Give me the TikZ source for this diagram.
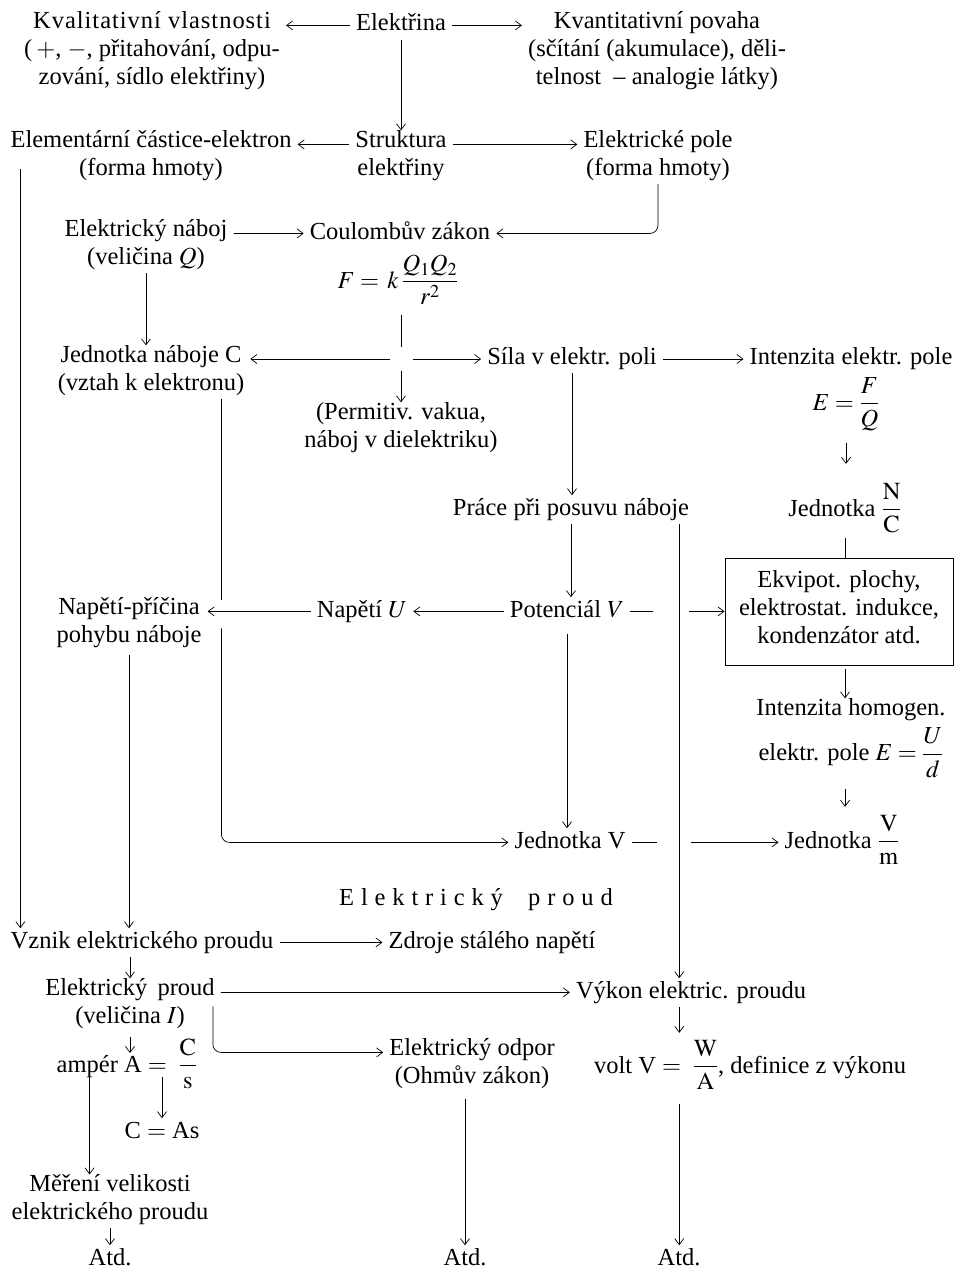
\documentclass[tikz,border=0pt]{standalone}
\usepackage{amsmath}
\usepackage{mathptmx}
\usepackage{fontspec}
\setmainfont{Liberation Serif}
\usetikzlibrary{arrows.meta,calc}
\begin{document}
\begin{tikzpicture}[x=1pt,y=-1pt,
  every node/.style={font=\fontsize{24.5}{28}\selectfont, inner xsep=6pt, inner ysep=0pt, execute at begin node=\strut},
  one/.style={anchor=base},
  multi/.style={anchor=north, align=center},
  link/.style={line width=0.7pt},
  arr/.style={link, -{Straight Barb[length=6pt,width=9pt]}},
  boxed/.style={draw, line width=1pt, minimum width=228pt, minimum height=107pt, align=center, anchor=center}
]
\useasboundingbox (0,0) rectangle (955,1268);
% nodes
\node[multi] (kval) at (152,11.4) {{\addfontfeatures{LetterSpace=4}Kvalitativní vlastnosti}\\\strut(\,$+$, $-$, přitahování, odpu-\\\strut zování, sídlo elektřiny)};
\node[one] (elek) at (401,31) {Elektřina};
\node[multi] (kvant) at (657,11.4) {Kvantitativní povaha\\\strut(sčítání (akumulace), děli-\\\strut telnost \ – analogie látky)};
\node[multi] (strukt) at (401,130.4) {Struktura\\\strut elektřiny};
\node[multi] (elem) at (151,130.4) {Elementární částice-elektron\\\strut(forma hmoty)};
\node[multi] (epole) at (658,130.4) {Elektrické pole\\\strut(forma hmoty)};
\node[multi] (naboj) at (146,219.4) {Elektrický náboj\\\strut(veličina $Q$)};
\node[one] (coul) at (400,239) {Coulombův zákon};
\node[one] (formula) at (398,288) {$F =\, k\,\dfrac{Q_1Q_2}{r^2}$};
\coordinate (J) at (401,359);
\node[multi] (jedC) at (151,345.4) {Jednotka náboje C\\\strut(vztah k elektronu)};
\node[multi] (perm) at (401,402.4) {(Permitiv. vakua,\\\strut náboj v dielektriku)};
\node[one] (sila) at (572,364.6) {Síla v elektr. poli};
\node[one] (intE) at (851,364.6) {Intenzita elektr. pole};
\node[one] (EFQ) at (846,410) {$E = \dfrac{F}{Q}$};
\node[one] (jedNC) at (845,516) {Jednotka $\dfrac{\mathrm{N}}{\mathrm{C}}$};
\node[one] (prace) at (571,515) {Práce při posuvu náboje};
\node[boxed] (box) at (839,611.5) {Ekvipot. plochy,\\\strut elektrostat. indukce,\\\strut kondenzátor atd.};
\node[one] (pot) at (567,617) {Potenciál $V$};
\node[one] (napU) at (362,617) {Napětí $U$};
\node[multi] (napPr) at (129,597.4) {Napětí-příčina\\\strut pohybu náboje};
\node[multi] (homog) at (851,698.4) {Intenzita homogen.\\[6pt]\strut elektr. pole $E = \dfrac{U}{d}$};
\node[one] (jedV) at (570,848) {Jednotka V};
\node[one] (jedVm) at (842,848) {Jednotka $\dfrac{\mathrm{V}}{\mathrm{m}}$};
\node[one] (title) at (476,905) {\addfontfeatures{LetterSpace=28}Elektrický\hspace{0.5em} proud};
\node[one] (vznik) at (142,948) {Vznik elektrického proudu};
\node[one] (zdroje) at (492,948) {Zdroje stálého napětí};
\node[multi] (eproud) at (130,978.4) {Elektrický\, proud\\\strut(veličina $I$)};
\node[one] (vykon) at (691,998) {Výkon elektric. proudu};
\node[one] (ampere) at (127,1072) {ampér A\ $=\ \dfrac{\mathrm{C}}{\mathrm{s}}$};
\node[one] (CAs) at (162,1138) {C $=$ As};
\node[multi] (odpor) at (472,1038.4) {Elektrický odpor\\\strut(Ohmův zákon)};
\node[one] (volt) at (750,1073) {volt\ V\ $=\ \dfrac{\mathrm{W}}{\mathrm{A}}$, definice z výkonu};
\node[multi] (meri) at (110,1174.4) {Měření velikosti\\\strut elektrického proudu};
\node[one] (atd1) at (110,1265) {Atd.};
\node[one] (atd2) at (465,1265) {Atd.};
\node[one] (atd3) at (679,1265) {Atd.};
% connectors
\draw[arr] (elek.west) -- (kval.east |- elek.west);
\draw[arr] (elek.east) -- (kvant.west |- elek.east);
\draw[arr] (elek.south) -- (strukt.north);
\draw[arr] ([yshift=-14pt]strukt.north west) -- ([yshift=-14pt]elem.north east);
\draw[arr] ([yshift=-14pt]strukt.north east) -- ([yshift=-14pt]epole.north west);
\draw[arr, rounded corners=8pt] (epole.south) |- (coul.east);
\draw[arr] ([yshift=-14pt]naboj.north east) -- (coul.west);
\draw[arr] (naboj.south) -- (naboj.south |- jedC.north);
\draw[link, shorten <=10pt] (formula.south -| J) -- ([yshift=12pt]J);
\draw[arr] ([xshift=-11pt]J) -- (jedC.east |- J);
\draw[arr] ([xshift=12pt]J) -- (sila.west |- J);
\draw[arr] ([yshift=-12pt]J) -- (perm.north -| J);
\draw[arr] (sila.east) -- (intE.west);
\draw[arr] (sila.south) -- (sila.south |- prace.north);
\draw[arr, shorten <=12pt, shorten >=19pt] (EFQ.south) -- (EFQ.south |- jedNC.north);
\draw[link, shorten <=5pt] (jedNC.south) -- (jedNC.south |- box.north);
\draw[arr] (prace.south) -- (prace.south |- pot.north);
\coordinate (pv) at ([xshift=-16pt]prace.south east);
\draw[arr] (pv) -- (pv |- vykon.north);
\draw[link] (pot.east) -- ([xshift=-26pt]pv |- pot.east);
\draw[arr] ([xshift=10pt]pv |- pot.east) -- (box.west |- pot.east);
\draw[arr] (pot.west) -- (napU.east);
\draw[arr] (napU.west) -- (napPr.east |- napU.west);
\coordinate (cv) at ([xshift=-29pt]jedC.south east);
\draw[link] (cv) -- ([yshift=11pt]cv |- napU.west);
\draw[arr, rounded corners=8pt] ([yshift=-17pt]cv |- napU.west) |- (jedV.west);
\draw[arr, shorten <=8pt] (pot.south) -- (pot.south |- jedV.north);
\draw[link] (jedV.east) -- ([xshift=-22pt]pv |- jedV.east);
\draw[arr] ([xshift=12pt]pv |- jedV.east) -- (jedVm.west |- jedV.east);
\draw[arr, shorten <=3pt] (box.south -| jedNC.south) -- (homog.north -| jedNC.south);
\draw[arr, shorten <=11pt, shorten >=8pt] (homog.south -| jedNC.south) -- (jedVm.north -| jedNC.south);
\coordinate (ev) at ([xshift=16pt,yshift=-38.6pt]elem.north west);
\draw[arr] (ev) -- (ev |- vznik.north);
\draw[arr, shorten <=4pt] (napPr.south) -- (napPr.south |- vznik.north);
\draw[arr] (vznik.east) -- (zdroje.west);
\draw[arr] (vznik.south -| eproud.north) -- (eproud.north);
\draw[arr] ([yshift=-14pt]eproud.north east) -- (vykon.west);
\coordinate (ep) at ([xshift=-8pt,yshift=-28pt]eproud.north east);
\draw[arr, rounded corners=8pt] (ep) |- ([yshift=-14pt]odpor.north west);
\draw[arr, shorten <=5pt, shorten >=19pt] (eproud.south) -- (eproud.south |- ampere.base);
\draw[arr] ([yshift=12pt]CAs.north |- ampere.south) -- (CAs.north);
\coordinate (am) at ([xshift=39pt,yshift=12pt]ampere.south west);
\draw[arr] (am) -- (am |- meri.north);
\draw[arr] (meri.south) -- (meri.south |- atd1.north);
\draw[arr, shorten <=7pt] (atd2.north |- odpor.south) -- (atd2.north);
\draw[arr, shorten >=7pt] (pv |- vykon.south) -- (pv |- volt.north);
\draw[arr, shorten <=14pt] (pv |- volt.south) -- (pv |- atd3.north);
\end{tikzpicture}
\end{document}
